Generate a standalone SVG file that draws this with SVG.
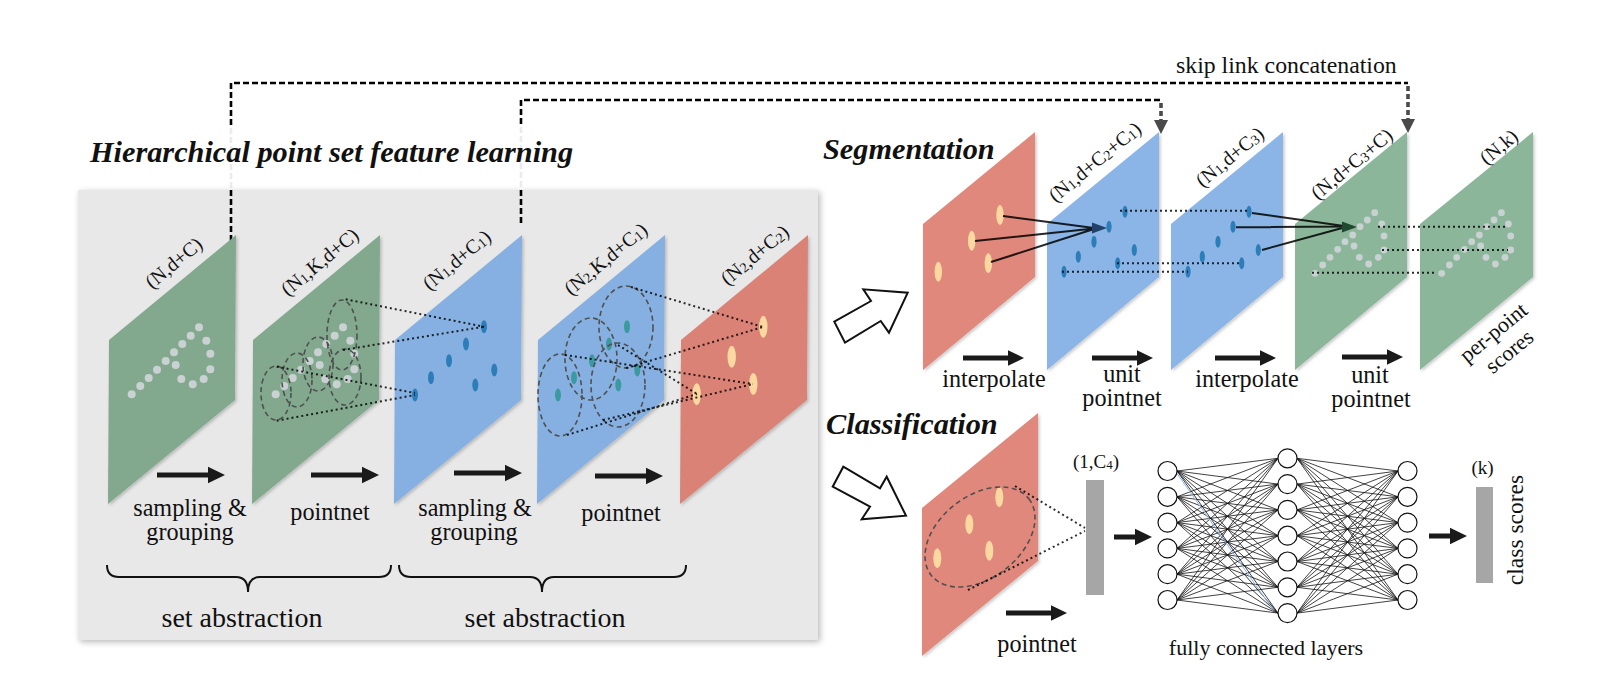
<svg xmlns="http://www.w3.org/2000/svg" width="1602" height="694" viewBox="0 0 1602 694">
<defs>
<style>
.tx{font-family:"Liberation Serif","Times New Roman",serif;fill:#111}
.lb{font-size:24.2px;text-anchor:middle}
.sa{font-size:28px;text-anchor:middle}
.dm{font-size:20px;text-anchor:middle}
.hd{font-size:30.3px;font-weight:bold;font-style:italic}
.sub{font-size:14px}
.pg{fill:#82a98e}
.pg2{fill:#8cb69a}
.pb{fill:#85b0e1}
.pb2{fill:#8ab5e6}
.pr{fill:#da8276}
.pr2{fill:#e0887c}
.gd{fill:#c9d1d2}
.bd{fill:#2c7db8}
.td{fill:#3c99a0}
.yd{fill:#fbd8a0}
.dot{stroke:#000;stroke-opacity:.82;stroke-width:2;stroke-dasharray:2 3;fill:none}
.ring{stroke:#505050;stroke-width:1.6;stroke-dasharray:5 3.5;fill:none}
.ray{stroke:#000;stroke-opacity:.85;stroke-width:2;fill:none}
.skip{stroke:#000;stroke-width:2.6;stroke-dasharray:6 3;fill:none}
.skipv{stroke:#4a4a4a;stroke-width:3.6;stroke-dasharray:5 3;fill:none}
.fc{stroke:#111;stroke-width:.8;fill:none}
.node{fill:#fff;stroke:#111;stroke-width:1.2}
.hollow{fill:#fff;stroke:#111;stroke-width:2;stroke-linejoin:miter}
.bar{fill:#a6a6a6}
.ar{fill:#1a1a1a}
</style>
<filter id="panelShadow" x="-5%" y="-5%" width="112%" height="112%">
<feDropShadow dx="2" dy="2" stdDeviation="3" flood-color="#000" flood-opacity="0.28"/>
</filter>
<filter id="planeShadow" x="-10%" y="-10%" width="125%" height="125%">
<feDropShadow dx="1.5" dy="1.5" stdDeviation="1.5" flood-color="#000" flood-opacity="0.22"/>
</filter>
<path id="arrL" d="M0 -2.6H51V-8.3L68 0L51 8.3V2.6H0Z"/>
<path id="arrM" d="M0 -2.4H45V-7.8L61 0L45 7.8V2.4H0Z"/>
<path id="arrS" d="M0 -2.6H21V-8.3L38 0L21 8.3V2.6H0Z"/>
<!-- point cloud drawn on the first input plane -->
<g id="cloudA" class="gd">
<circle cx="131.7" cy="394.3" r="4"/><circle cx="140.3" cy="386" r="4"/><circle cx="148.7" cy="378" r="4"/>
<circle cx="157" cy="369.7" r="4"/><circle cx="165.7" cy="361" r="4"/><circle cx="174" cy="352.3" r="4"/>
<circle cx="182.3" cy="344" r="4"/><circle cx="190.7" cy="335.7" r="4"/><circle cx="199" cy="327.3" r="4"/>
<circle cx="175.7" cy="365" r="4"/><circle cx="181.3" cy="379" r="4"/><circle cx="192.7" cy="384.3" r="4"/>
<circle cx="203.7" cy="379" r="4"/><circle cx="210.3" cy="369.3" r="4"/><circle cx="210.3" cy="353.7" r="4"/>
<circle cx="206.3" cy="340.7" r="4"/>
</g>
<!-- point cloud on the full-resolution segmentation planes -->
<g id="cloudB" class="gd">
<circle cx="1315" cy="273.3" r="3.4"/><circle cx="1322.7" cy="265" r="3.4"/><circle cx="1330" cy="257.3" r="3.4"/>
<circle cx="1337.7" cy="249.3" r="3.4"/><circle cx="1345" cy="241.7" r="3.4"/><circle cx="1352.7" cy="235" r="3.4"/>
<circle cx="1360" cy="226.7" r="3.4"/><circle cx="1367.3" cy="220" r="3.4"/><circle cx="1374.7" cy="212.7" r="3.4"/>
<circle cx="1354" cy="246" r="3.4"/><circle cx="1359.3" cy="257.3" r="3.4"/><circle cx="1368.7" cy="264" r="3.4"/>
<circle cx="1378.3" cy="257.3" r="3.4"/><circle cx="1384" cy="250" r="3.4"/><circle cx="1384" cy="236" r="3.4"/>
<circle cx="1381.7" cy="224" r="3.4"/>
</g>
<!-- sampled centroids, first level -->
<g id="centA">
<ellipse cx="415" cy="395" rx="3" ry="6.5"/><ellipse cx="431" cy="377.7" rx="3" ry="6.5"/>
<ellipse cx="449" cy="360.7" rx="3" ry="6.5"/><ellipse cx="466" cy="344" rx="3" ry="6.5"/>
<ellipse cx="484" cy="326.7" rx="3" ry="6.5"/><ellipse cx="475.3" cy="385" rx="3" ry="6.5"/>
<ellipse cx="494.3" cy="370" rx="3" ry="6.5"/>
</g>
<g id="centB">
<ellipse cx="1125" cy="211.7" rx="2.6" ry="6"/><ellipse cx="1109" cy="226.7" rx="2.6" ry="6"/>
<ellipse cx="1094" cy="241.7" rx="2.6" ry="6"/><ellipse cx="1078.3" cy="256.7" rx="2.6" ry="6"/>
<ellipse cx="1064" cy="271.7" rx="2.6" ry="6"/><ellipse cx="1134.3" cy="250" rx="2.6" ry="6"/>
<ellipse cx="1117.7" cy="263.3" rx="2.6" ry="6"/>
</g>
</defs>

<rect width="1602" height="694" fill="#fff"/>

<!-- skip links -->
<g id="skip-links">
<path class="skip" d="M231 242V83H1408"/>
<path class="skipv" d="M1408 86V120"/>
<polygon points="1401,119 1415,119 1408,133" fill="#4a4a4a"/>
<path class="skip" d="M521 223V100H1161"/>
<path class="skipv" d="M1161 103V121"/>
<polygon points="1154,120 1168,120 1161,134" fill="#4a4a4a"/>
<text class="tx" x="1176" y="73" font-size="23.8">skip link concatenation</text>
</g>

<!-- title over the left block -->
<g id="title">
<rect x="86" y="127" width="494" height="62" fill="#fff" fill-opacity="0.92"/>
<text class="tx hd" x="90" y="162">Hierarchical point set feature learning</text>
</g>

<!-- hierarchical feature learning block -->
<g id="panel">
<rect x="78" y="190" width="740" height="450" fill="#e8e8e8" filter="url(#panelShadow)"/>
</g>
<g id="skip-stubs">
<path class="skip" d="M231 190V242"/>
<path class="skip" d="M521 190V223"/>
</g>

<g id="plane-1">
<polygon class="pg" filter="url(#planeShadow)" points="109,340 236,235 235,400 108,504"/>
<use href="#cloudA"/>
<text class="tx dm" transform="translate(178 268) rotate(-39.5)">(N,d+C)</text>
</g>

<g id="plane-2">
<polygon class="pg" filter="url(#planeShadow)" points="253,340 380,235 379,400 252,504"/>
<use href="#cloudA" x="144"/>
<ellipse class="ring" cx="276" cy="393" rx="15" ry="27"/>
<ellipse class="ring" cx="297" cy="380" rx="15" ry="27"/>
<ellipse class="ring" cx="318" cy="364" rx="15" ry="27"/>
<ellipse class="ring" cx="342" cy="335" rx="15" ry="35"/>
<ellipse class="ring" cx="345" cy="377" rx="16" ry="28"/>
<text class="tx dm" transform="translate(324 267) rotate(-39.5)">(N<tspan class="sub" dy="1">1</tspan><tspan dy="-1">,K,d+C)</tspan></text>
</g>

<g id="plane-3">
<polygon class="pb" filter="url(#planeShadow)" points="395,340 522,235 521,400 394,504"/>
<use href="#centA" class="bd"/>
<text class="tx dm" transform="translate(461 265) rotate(-39.5)">(N<tspan class="sub" dy="1">1</tspan><tspan dy="-1">,d+C</tspan><tspan class="sub" dy="1">1</tspan><tspan dy="-1">)</tspan></text>
</g>

<g id="plane-4">
<polygon class="pb" filter="url(#planeShadow)" points="538,340 665,235 664,400 537,504"/>
<use href="#centA" x="143" class="td"/>
<ellipse class="ring" cx="560" cy="395" rx="22" ry="41"/>
<ellipse class="ring" cx="591" cy="359" rx="26" ry="41"/>
<ellipse class="ring" cx="626" cy="327" rx="27" ry="41"/>
<ellipse class="ring" cx="618" cy="385" rx="27" ry="42"/>
<text class="tx dm" transform="translate(610 264) rotate(-39.5)">(N<tspan class="sub" dy="1">2</tspan><tspan dy="-1">,K,d+C</tspan><tspan class="sub" dy="1">1</tspan><tspan dy="-1">)</tspan></text>
</g>

<g id="plane-5">
<polygon class="pr" filter="url(#planeShadow)" points="681,340 808,235 807,400 680,504"/>
<g class="yd">
<ellipse cx="763.3" cy="326.7" rx="4.2" ry="11"/><ellipse cx="731.7" cy="356.7" rx="4.2" ry="11"/>
<ellipse cx="753.3" cy="384" rx="4.2" ry="11"/><ellipse cx="696.7" cy="394.3" rx="4.2" ry="11"/>
</g>
<text class="tx dm" transform="translate(759 260) rotate(-39.5)">(N<tspan class="sub" dy="1">2</tspan><tspan dy="-1">,d+C</tspan><tspan class="sub" dy="1">2</tspan><tspan dy="-1">)</tspan></text>
</g>

<!-- grouping rays between levels -->
<g id="grouping-rays">
<path class="dot" d="M345.7 299.3L484 326.7M343 350L484 326.7M276.7 366.7L415 393M276.7 420.7L415 395"/>
<path class="dot" d="M631 287L763 327M626 368L763 327M565 355L753 384M603 420L753 384M567 435L697 394M618 345L697 394"/>
</g>

<g id="left-steps">
<use href="#arrL" class="ar" x="157" y="475"/>
<use href="#arrL" class="ar" x="311" y="475"/>
<use href="#arrL" class="ar" x="454" y="473"/>
<use href="#arrL" class="ar" x="595" y="476"/>
<text class="tx lb" x="190" y="516">sampling &amp;</text>
<text class="tx lb" x="190" y="540">grouping</text>
<text class="tx lb" x="330" y="520">pointnet</text>
<text class="tx lb" x="475" y="516">sampling &amp;</text>
<text class="tx lb" x="474" y="540">grouping</text>
<text class="tx lb" x="621" y="521">pointnet</text>
</g>

<g id="braces">
<path d="M107 565Q107 577 119 577H236Q248 577 248 592Q248 577 260 577H379Q391 577 391 565" fill="none" stroke="#111" stroke-width="2"/>
<path d="M399 565Q399 577 411 577H530Q542 577 542 592Q542 577 554 577H674Q686 577 686 565" fill="none" stroke="#111" stroke-width="2"/>
<text class="tx sa" x="242" y="627">set abstraction</text>
<text class="tx sa" x="545" y="627">set abstraction</text>
</g>

<!-- branch arrows -->
<g id="branch-arrows">
<polygon class="hollow" points="834.3,321.7 871,301 863.3,289.3 907.7,292.7 889,332.7 880.7,321 845,342.7"/>
<polygon class="hollow" points="843.3,466.7 880,488.3 886.7,476.7 906,515.7 861.7,519.3 870,506.7 832.7,486.7"/>
</g>

<!-- segmentation branch -->
<text class="tx hd" x="823" y="159">Segmentation</text>

<g id="seg-plane-1">
<polygon class="pr2" filter="url(#planeShadow)" points="923,224 1035,132 1035,277 923,370"/>
<g class="yd">
<ellipse cx="1000" cy="215" rx="3.7" ry="10"/><ellipse cx="971.7" cy="240.7" rx="3.7" ry="10"/>
<ellipse cx="988.3" cy="263.3" rx="3.7" ry="10"/><ellipse cx="938.3" cy="271.7" rx="3.7" ry="10"/>
</g>
</g>

<g id="seg-plane-2">
<polygon class="pb2" filter="url(#planeShadow)" points="1047,224 1159,132 1159,277 1047,370"/>
<use href="#centB" class="bd"/>
<text class="tx dm" transform="translate(1099 167) rotate(-39.5)">(N<tspan class="sub" dy="1">1</tspan><tspan dy="-1">,d+C</tspan><tspan class="sub" dy="1">2</tspan><tspan dy="-1">+C</tspan><tspan class="sub" dy="1">1</tspan><tspan dy="-1">)</tspan></text>
</g>

<g id="seg-plane-3">
<polygon class="pb2" filter="url(#planeShadow)" points="1171,224 1283,132 1283,277 1171,370"/>
<use href="#centB" x="124" class="bd"/>
<text class="tx dm" transform="translate(1234 162) rotate(-39.5)">(N<tspan class="sub" dy="1">1</tspan><tspan dy="-1">,d+C</tspan><tspan class="sub" dy="1">3</tspan><tspan dy="-1">)</tspan></text>
</g>

<g id="seg-plane-4">
<polygon class="pg2" filter="url(#planeShadow)" points="1295,224 1407,132 1407,277 1295,370"/>
<use href="#cloudB"/>
<text class="tx dm" transform="translate(1356 169) rotate(-39.5)">(N,d+C<tspan class="sub" dy="1">3</tspan><tspan dy="-1">+C)</tspan></text>
</g>

<g id="seg-plane-5">
<polygon class="pg2" filter="url(#planeShadow)" points="1420,224 1533,132 1533,277 1420,370"/>
<use href="#cloudB" x="126.7"/>
<text class="tx dm" transform="translate(1503 152) rotate(-39.5)">(N,k)</text>
<text class="tx" font-size="22" text-anchor="middle" transform="translate(1498 338) rotate(-39.5)">per-point</text>
<text class="tx" font-size="22" text-anchor="middle" transform="translate(1514 357) rotate(-39.5)">scores</text>
</g>

<!-- interpolation and propagation links -->
<g id="seg-links">
<path class="ray" d="M1003 216L1094 228M975 241L1094 228.5M991 262L1094 229"/>
<polygon points="1107,228 1092,222.5 1092,233.5" fill="#22406a"/>
<path class="dot" d="M1120 210.7H1248M1117 263.3H1242M1062 271.7H1188"/>
<path class="ray" d="M1252 213L1344 226M1236 227.3L1344 226.5M1262 250L1344 227.5"/>
<polygon points="1357,227 1342,221.5 1342,232.5" fill="#1f4a30"/>
<path class="dot" d="M1378 226.7H1505M1382 250H1508M1312 272.7H1437"/>
</g>

<g id="seg-steps">
<use href="#arrM" class="ar" x="963" y="358"/>
<use href="#arrM" class="ar" x="1092" y="358"/>
<use href="#arrM" class="ar" x="1215" y="358"/>
<use href="#arrM" class="ar" x="1342" y="357"/>
<text class="tx lb" x="994" y="387">interpolate</text>
<text class="tx lb" x="1122" y="382">unit</text>
<text class="tx lb" x="1122" y="406">pointnet</text>
<text class="tx lb" x="1247" y="387">interpolate</text>
<text class="tx lb" x="1370" y="383">unit</text>
<text class="tx lb" x="1371" y="407">pointnet</text>
</g>

<!-- classification branch -->
<text class="tx hd" x="826" y="434">Classification</text>

<g id="cls-plane">
<polygon class="pr2" filter="url(#planeShadow)" points="922,508 1038,413 1038,561 922,656"/>
<g class="yd">
<ellipse cx="999.3" cy="497.3" rx="4" ry="10"/><ellipse cx="969.3" cy="524.3" rx="4" ry="10"/>
<ellipse cx="989.3" cy="550.7" rx="4" ry="10"/><ellipse cx="937.3" cy="558.3" rx="4" ry="10"/>
</g>
<ellipse class="ring" cx="980" cy="537" rx="62" ry="41" transform="rotate(-38 980 537)"/>
</g>

<g id="global-feature">
<path class="dot" d="M1015 486L1085 528M968 590L1085 531"/>
<rect class="bar" x="1086" y="480" width="18" height="115"/>
<text class="tx" font-size="19" text-anchor="middle" x="1096" y="468">(1,C<tspan font-size="13" dy="1">4</tspan><tspan dy="-1">)</tspan></text>
<use href="#arrM" class="ar" x="1006" y="613"/>
<text class="tx lb" x="1037" y="652">pointnet</text>
<use href="#arrS" class="ar" x="1114" y="537"/>
</g>

<g id="fc-layers">
<path class="fc" d="M1177 471L1278 458.3M1177 471L1278 484.1M1177 471L1278 509.9M1177 471L1278 535.7M1177 471L1278 561.5M1177 471L1278 587.3M1177 471L1278 613.1M1177 496.8L1278 458.3M1177 496.8L1278 484.1M1177 496.8L1278 509.9M1177 496.8L1278 535.7M1177 496.8L1278 561.5M1177 496.8L1278 587.3M1177 496.8L1278 613.1M1177 522.6L1278 458.3M1177 522.6L1278 484.1M1177 522.6L1278 509.9M1177 522.6L1278 535.7M1177 522.6L1278 561.5M1177 522.6L1278 587.3M1177 522.6L1278 613.1M1177 548.4L1278 458.3M1177 548.4L1278 484.1M1177 548.4L1278 509.9M1177 548.4L1278 535.7M1177 548.4L1278 561.5M1177 548.4L1278 587.3M1177 548.4L1278 613.1M1177 574.2L1278 458.3M1177 574.2L1278 484.1M1177 574.2L1278 509.9M1177 574.2L1278 535.7M1177 574.2L1278 561.5M1177 574.2L1278 587.3M1177 574.2L1278 613.1M1177 600L1278 458.3M1177 600L1278 484.1M1177 600L1278 509.9M1177 600L1278 535.7M1177 600L1278 561.5M1177 600L1278 587.3M1177 600L1278 613.1"/>
<path class="fc" d="M1297 458.3L1398 471M1297 458.3L1398 496.8M1297 458.3L1398 522.6M1297 458.3L1398 548.4M1297 458.3L1398 574.2M1297 458.3L1398 600M1297 484.1L1398 471M1297 484.1L1398 496.8M1297 484.1L1398 522.6M1297 484.1L1398 548.4M1297 484.1L1398 574.2M1297 484.1L1398 600M1297 509.9L1398 471M1297 509.9L1398 496.8M1297 509.9L1398 522.6M1297 509.9L1398 548.4M1297 509.9L1398 574.2M1297 509.9L1398 600M1297 535.7L1398 471M1297 535.7L1398 496.8M1297 535.7L1398 522.6M1297 535.7L1398 548.4M1297 535.7L1398 574.2M1297 535.7L1398 600M1297 561.5L1398 471M1297 561.5L1398 496.8M1297 561.5L1398 522.6M1297 561.5L1398 548.4M1297 561.5L1398 574.2M1297 561.5L1398 600M1297 587.3L1398 471M1297 587.3L1398 496.8M1297 587.3L1398 522.6M1297 587.3L1398 548.4M1297 587.3L1398 574.2M1297 587.3L1398 600M1297 613.1L1398 471M1297 613.1L1398 496.8M1297 613.1L1398 522.6M1297 613.1L1398 548.4M1297 613.1L1398 574.2M1297 613.1L1398 600"/>
<path d="M1176.7 473L1273.3 610" stroke="#8ab4e8" stroke-width="1" fill="none"/>
<g class="node">
<circle cx="1167.5" cy="471" r="9.5"/><circle cx="1167.5" cy="496.8" r="9.5"/><circle cx="1167.5" cy="522.6" r="9.5"/>
<circle cx="1167.5" cy="548.4" r="9.5"/><circle cx="1167.5" cy="574.2" r="9.5"/><circle cx="1167.5" cy="600" r="9.5"/>
<circle cx="1287.5" cy="458.3" r="9.5"/><circle cx="1287.5" cy="484.1" r="9.5"/><circle cx="1287.5" cy="509.9" r="9.5"/>
<circle cx="1287.5" cy="535.7" r="9.5"/><circle cx="1287.5" cy="561.5" r="9.5"/><circle cx="1287.5" cy="587.3" r="9.5"/>
<circle cx="1287.5" cy="613.1" r="9.5"/>
<circle cx="1407.5" cy="471" r="9.5"/><circle cx="1407.5" cy="496.8" r="9.5"/><circle cx="1407.5" cy="522.6" r="9.5"/>
<circle cx="1407.5" cy="548.4" r="9.5"/><circle cx="1407.5" cy="574.2" r="9.5"/><circle cx="1407.5" cy="600" r="9.5"/>
</g>
<text class="tx" font-size="22" text-anchor="middle" x="1266" y="655">fully connected layers</text>
</g>

<g id="class-scores">
<use href="#arrS" class="ar" x="1429" y="536"/>
<rect class="bar" x="1476" y="487" width="17" height="96"/>
<text class="tx" font-size="19" text-anchor="middle" x="1482.5" y="474">(k)</text>
<text class="tx" font-size="23.5" text-anchor="middle" transform="translate(1523 530) rotate(-90)">class scores</text>
</g>
</svg>
